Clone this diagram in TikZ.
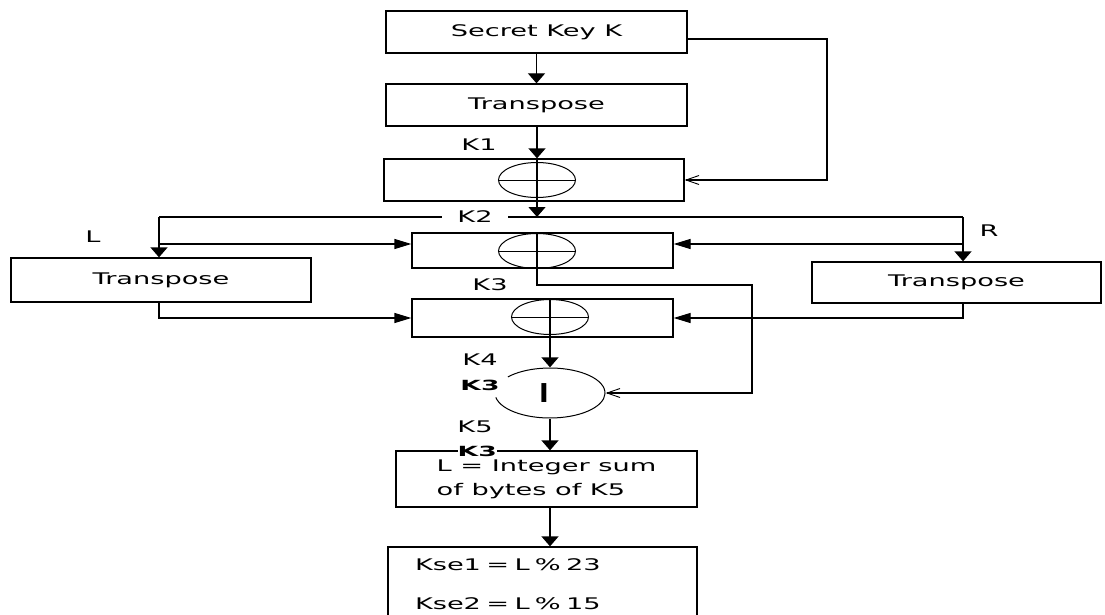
\documentclass[tikz,border=0pt]{standalone}
\usepackage{fontspec}
\setmainfont[FakeStretch=1.7]{DejaVu Sans}
\newfontfamily\blobfont[FakeStretch=1.9]{DejaVu Sans}
\newfontfamily\ifont{DejaVu Sans}
\usetikzlibrary{arrows.meta,shapes.geometric}
\begin{document}
\begin{tikzpicture}[x=1pt,y=-1pt, line width=1.3pt,
  box/.style={draw, inner sep=0pt, font=\fontsize{16}{19}\selectfont},
  lbl/.style={inner sep=0pt, font=\fontsize{16}{19}\selectfont},
  varr/.style={-{Triangle[width=17pt,length=10pt]}},
  harr/.style={-{Triangle[width=10pt,length=17pt]}},
  oarr/.style={-{Straight Barb[length=13pt,width=9pt,line width=0.9pt]}},
  xorel/.style={draw, ellipse, minimum width=77pt, minimum height=35pt, inner sep=0pt, line width=1pt},
  blob/.style={inner sep=0pt, font=\blobfont\bfseries\fontsize{14}{14}\selectfont}
]
\fill[white] (0,0) rectangle (1105,615);
\path[use as bounding box, clip] (0,0) rectangle (1105,615);

% boxes
\node[box, minimum width=301pt, minimum height=42pt] (sk) at (536.5,32) {Secret Key K};
\node[box, minimum width=301pt, minimum height=42pt] (tr) at (536.5,105) {Transpose};
\node[box, minimum width=300pt, minimum height=42pt] (b1) at (534,180) {};
\node[box, minimum width=261pt, minimum height=35pt] (b2) at (542.5,250.5) {};
\node[box, minimum width=261pt, minimum height=38pt] (b3) at (542.5,318) {};
\node[box, minimum width=300pt, minimum height=44pt] (lt) at (161,280) {Transpose};
\node[box, minimum width=289pt, minimum height=41pt] (rt) at (956.5,282.5) {Transpose};
\node[ellipse, minimum width=110pt, minimum height=50pt, inner sep=0pt] (ci) at (550,393) {};
\node[box, minimum width=301pt, minimum height=56pt, align=left,
      font=\fontsize{16}{24}\selectfont] (b4) at (546.5,479) {L = Integer sum\\of bytes of K5};
\node[box, text width=255pt, inner xsep=27pt, minimum height=74pt, align=left,
      font=\fontsize{16}{39}\selectfont] (b5) at (542.5,584) {Kse1 = L \% 23\\Kse2 = L \% 15};

% xor symbols
\node[xorel] (x1) at (537,180) {};
\draw[line width=1pt] (x1.west) -- (x1.east);
\node[xorel] (x2) at (537,251) {};
\draw[line width=1pt] (x2.west) -- (x2.east);
\node[xorel] (x3) at (550,317) {};
\draw[line width=1pt] (x3.west) -- (x3.east);
\draw (b1.north -| x1) -- (b1.south -| x1);

% circle with gap
\draw[line width=1pt] (ci.center) ++(190:55pt and 25pt) arc[start angle=190, end angle=500, x radius=55pt, y radius=25pt];
\node[inner sep=0pt, font=\ifont\bfseries\fontsize{26}{26}\selectfont] (iv) at (544,393) {I};

% connectors
\coordinate (c1) at (827,39);
\coordinate (jl) at (159,217);
\coordinate (jr) at (963,217);
\coordinate (bl) at (159,244);
\coordinate (br) at (963,244);
\coordinate (fb) at (752,285);

\draw[varr] (sk.south) -- (tr.north);
\draw[oarr] (sk.east |- c1) -- (c1) |- (b1.east);
\draw[varr] (tr.south -| x1) -- (b1.north -| x1);
\draw[varr] (b1.south -| x1) -- (x1 |- jl);
\draw (jl) -- (jr);
\node[lbl, fill=white, inner xsep=15pt, inner ysep=2pt] (k2) at (475,217) {K2};
\draw[varr] (jl) -- (jl |- lt.north);
\draw[varr] (jr) -- (jr |- rt.north);
\draw[harr] (bl) -- (bl -| b2.west);
\draw[harr] (br) -- (br -| b2.east);
\draw[harr] (jl |- lt.south) |- (b3.west);
\draw[harr] (jr |- rt.south) |- (b3.east);
\draw[oarr] (b2.north -| x2) |- (fb) |- (ci.east);
\draw[varr] (b3.north -| x3) -- (ci.north);
\draw[varr] (ci.south) -- (ci.south |- b4.north);
\draw[varr] (b4.south -| ci) -- (b5.north -| ci);

% labels
\node[lbl] (k1) at (479,145) {K1};
\node[lbl] (k3) at (490,285) {K3};
\node[lbl] (k4) at (480,360) {K4};
\node[lbl] (k5) at (475,427) {K5};
\node[lbl] (ll) at (93,237) {L};
\node[lbl] (rr) at (989,231) {R};
\node[blob] (bk1) at (480,385) {K3};
\node[blob, fill=white, anchor=west, inner ysep=1pt] (bk2) at (457,451) {K3\hspace{27pt}};
\end{tikzpicture}
\end{document}
